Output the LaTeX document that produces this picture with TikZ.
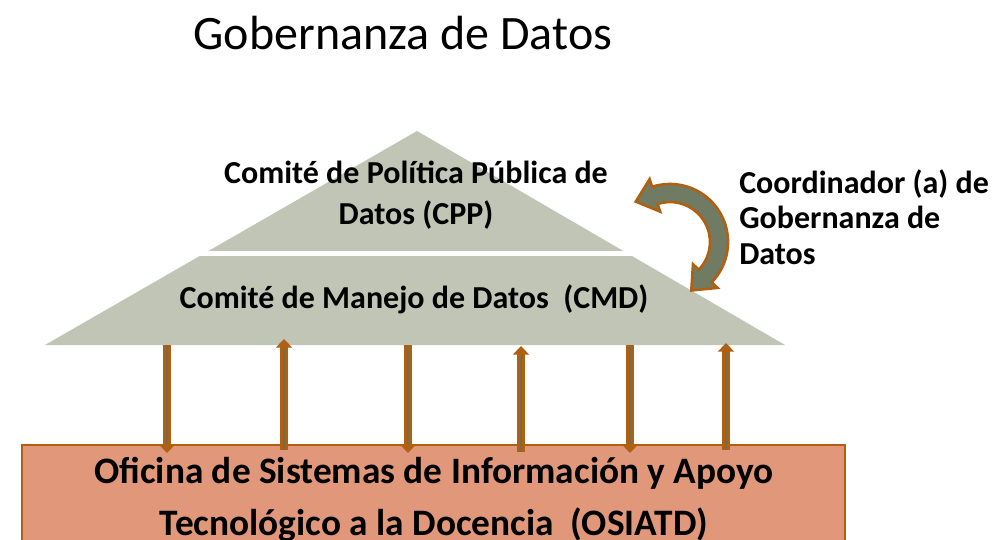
\documentclass[tikz,border=0pt]{standalone}
\usepackage{fontspec}
\setmainfont{Carlito}
\usetikzlibrary{arrows.meta,calc}
\definecolor{piramide}{RGB}{192,197,181}
\definecolor{cafe}{RGB}{176,96,18}
\definecolor{salmon}{RGB}{225,151,121}
\definecolor{olivo}{RGB}{111,124,99}
\definecolor{nucleo}{RGB}{120,108,68}
\begin{document}
\begin{tikzpicture}[x=0.75pt,y=-0.75pt,
  titulo/.style={font=\fontsize{36}{40}\selectfont, inner sep=0pt},
  texto/.style={font=\bfseries\fontsize{24}{30.75}\selectfont, align=center, inner sep=0pt},
  flecha/.style={cafe, line width=5.4pt, -{Triangle[width=12pt,length=6.5pt]}},
  alma/.style={nucleo, line width=1.2pt}]
\useasboundingbox (0,0) rectangle (992,539);
\clip (0,0) rectangle (992,539);

\node[titulo] (titulo) at (403,33) {Gobernanza de Datos};

% oficina
\draw[cafe, line width=2.2pt, fill=salmon] (22,445) rectangle (845,580);
\node[texto, font=\bfseries\fontsize{28}{39}\selectfont] (osiatd) at (434,500)
  {Oficina de Sistemas de Información y Apoyo\\Tecnológico a la Docencia\ \ (OSIATD)};

% piramide
\fill[piramide] (417,131) -- (45,345) -- (785,345) -- cycle;
\draw[white, line width=3.5pt] (180,253.5) -- (650,253.5);
\node[texto] (cpp) at (416,195) {Comité de Política Pública de\\Datos (CPP)};
\node[texto] (cmd) at (414,299) {Comité de Manejo de Datos\ \ (CMD)};

\node[texto, align=left, anchor=west, font=\bfseries\fontsize{24}{26.5}\selectfont] (coord) at (739,217)
  {Coordinador (a) de\\Gobernanza de\\Datos};

% flechas verticales
\coordinate (A1) at (167,345); \coordinate (B1) at (167,453);
\coordinate (A2) at (284,450); \coordinate (B2) at (284,339);
\coordinate (A3) at (408,345); \coordinate (B3) at (408,453);
\coordinate (A4) at (521,452); \coordinate (B4) at (521,346);
\coordinate (A5) at (630,345); \coordinate (B5) at (630,453);
\coordinate (A6) at (726,450); \coordinate (B6) at (726,343);

\draw[flecha] (A1)--(B1); \draw[alma] (A1)--($(B1)!6.5pt!(A1)$);
\draw[flecha] (A2)--(B2); \draw[alma] (A2)--($(B2)!6.5pt!(A2)$);
\draw[flecha] (A3)--(B3); \draw[alma] (A3)--($(B3)!6.5pt!(A3)$);
\draw[flecha] (A4)--(B4); \draw[alma] (A4)--($(B4)!6.5pt!(A4)$);
\draw[flecha] (A5)--(B5); \draw[alma] (A5)--($(B5)!6.5pt!(A5)$);
\draw[flecha] (A6)--(B6); \draw[alma] (A6)--($(B6)!6.5pt!(A6)$);

% flecha curva
\begin{scope}[shift={(670,242)}, yscale=-1]
\filldraw[fill=olivo, draw=cafe, line width=2pt, line join=miter]
  (108:58) arc[start angle=108, end angle=-44, radius=58]
  -- (-44:66) -- ($(-44:49)+(-134:20)$) -- (-44:32) -- (-44:40)
  arc[start angle=-44, end angle=108, radius=40]
  -- (108:32) -- ($(108:49)+(198:20)$) -- (108:66) -- cycle;
\end{scope}
\end{tikzpicture}
\end{document}
